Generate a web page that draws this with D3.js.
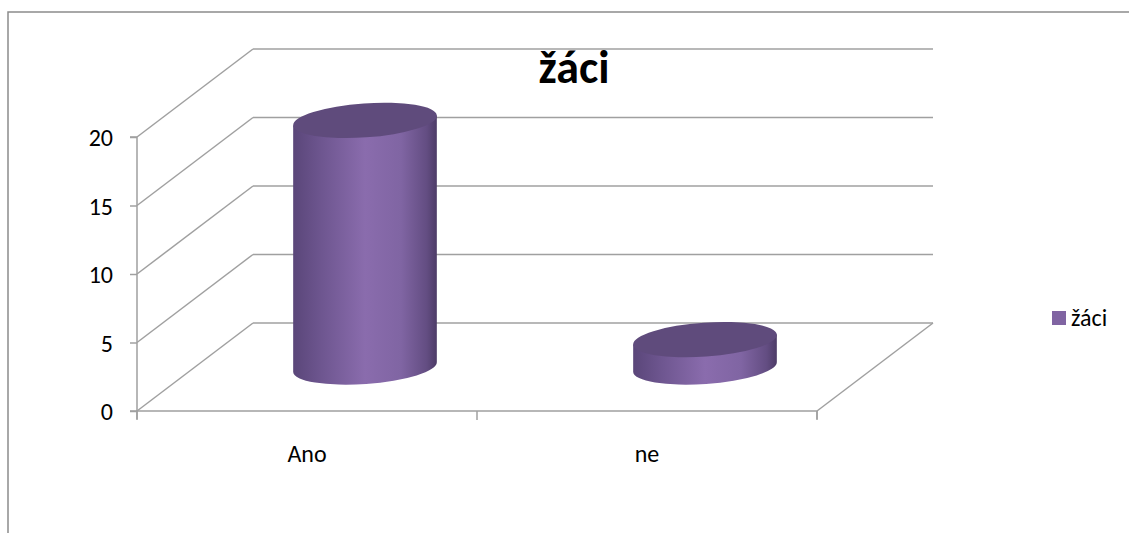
<!DOCTYPE html>
<html><head><meta charset="utf-8">
<script src="https://cdn.jsdelivr.net/npm/d3@7"></script>
<style>body{margin:0;background:#fff}svg{display:block}</style>
</head><body>
<svg id="c" width="1129" height="533"></svg>
<script>
const categories = ["Ano", "ne"];
const values = [18, 2];
const yTicks = [0, 5, 10, 15, 20];
const seriesName = "žáci";
const title = "žáci";

const svg = d3.select("#c");
const W = 1129, H = 533;
const font = "Carlito, Lato, 'Open Sans', sans-serif";
const grid = "#a0a0a0";
const dx = 116, dy = -88;

// outer frame
svg.append("path").attr("d", `M8,${H+2} L8,12 L${W+2},12`).attr("fill","none").attr("stroke","#8c8c8c").attr("stroke-width",1.5);

const y = d3.scaleLinear().domain([0, 20]).range([411, 137]);
const x = d3.scaleBand().domain(categories).range([137, 817]);

const g = svg.append("g");
// back wall gridlines
yTicks.forEach(t => {
  g.append("line").attr("x1", 137).attr("y1", y(t)).attr("x2", 137+dx).attr("y2", y(t)+dy)
    .attr("stroke", grid).attr("stroke-width", 1.5);
  g.append("line").attr("x1", 137+dx).attr("y1", y(t)+dy).attr("x2", 817+dx).attr("y2", y(t)+dy)
    .attr("stroke", grid).attr("stroke-width", 1.5);
});
// floor
g.append("line").attr("x1", 817).attr("y1", y(0)).attr("x2", 817+dx).attr("y2", y(0)+dy).attr("stroke", grid).attr("stroke-width", 1.5);

// y axis
const yAxis = d3.axisLeft(y).tickValues(yTicks).tickSize(7).tickPadding(17);
const ya = svg.append("g").attr("transform", "translate(137,0)").call(yAxis);
ya.select(".domain").attr("stroke", grid).attr("stroke-width", 1.5).attr("d", `M-7,${y(20)}H0V${y(0)}H-7`);
ya.selectAll(".tick line").attr("stroke", grid).attr("stroke-width", 1.5);
ya.selectAll("text").attr("font-family", font).attr("font-size", 24).attr("fill", "#000").attr("dy", "0.36em");

// x axis
const xAxis = d3.axisBottom(x).tickSize(0).tickPadding(0);
const xa = svg.append("g").attr("transform", `translate(0,${y(0)})`).call(xAxis);
xa.select(".domain").attr("stroke", grid).attr("stroke-width", 1.5).attr("d", "M137,8V0H817V8");
xa.selectAll("text").attr("font-family", font).attr("font-size", 24).attr("fill", "#000").attr("y", 51).attr("dy", 0);
// category separator ticks
[137, 137 + x.step(), 817].forEach(px => {
  xa.append("line").attr("x1", px).attr("x2", px).attr("y1", 0).attr("y2", 9).attr("stroke", grid).attr("stroke-width", 1.5);
});

// gradient
const defs = svg.append("defs");
const grad = defs.append("linearGradient").attr("id", "side").attr("x1", 0).attr("x2", 1).attr("y1", 0).attr("y2", 0);
[[0,"#5a4679"],[0.2,"#6e5690"],[0.5,"#8a6cad"],[0.75,"#8065a3"],[0.93,"#634d82"],[1,"#4d3c67"]].forEach(([o,c]) =>
  grad.append("stop").attr("offset", o).attr("stop-color", c));

// cylinders
const rx = 72, ry = 17, rot = -4;
const rad = rot * Math.PI / 180;
const cyl = svg.append("g");
categories.forEach((c, i) => {
  const cx = x(c) + x.bandwidth()/2 + dx/2;
  const yb = y(0) + dy/2;
  const yt = y(values[i]) + dy/2;
  const ox = rx*Math.cos(rad), oy = rx*Math.sin(rad);
  const p = `M${cx-ox},${yt-oy} L${cx-ox},${yb-oy} A${rx},${ry} ${rot} 0 0 ${cx+ox},${yb+oy} L${cx+ox},${yt+oy} Z`;
  cyl.append("path").attr("d", p).attr("fill", "url(#side)");
  cyl.append("ellipse").attr("cx", cx).attr("cy", yt).attr("rx", rx).attr("ry", ry)
    .attr("transform", `rotate(${rot},${cx},${yt})`).attr("fill", "#5f4b7c");
});

// title
svg.append("text").attr("x", 574).attr("y", 83).attr("text-anchor", "middle")
  .attr("font-family", font).attr("font-weight", "bold").attr("font-size", 46).text(title);

// legend
svg.append("rect").attr("x", 1052).attr("y", 311).attr("width", 14).attr("height", 14).attr("fill", "#8064a2");
svg.append("text").attr("x", 1071).attr("y", 326).attr("font-family", font).attr("font-size", 24).text(seriesName);
</script>
</body></html>
